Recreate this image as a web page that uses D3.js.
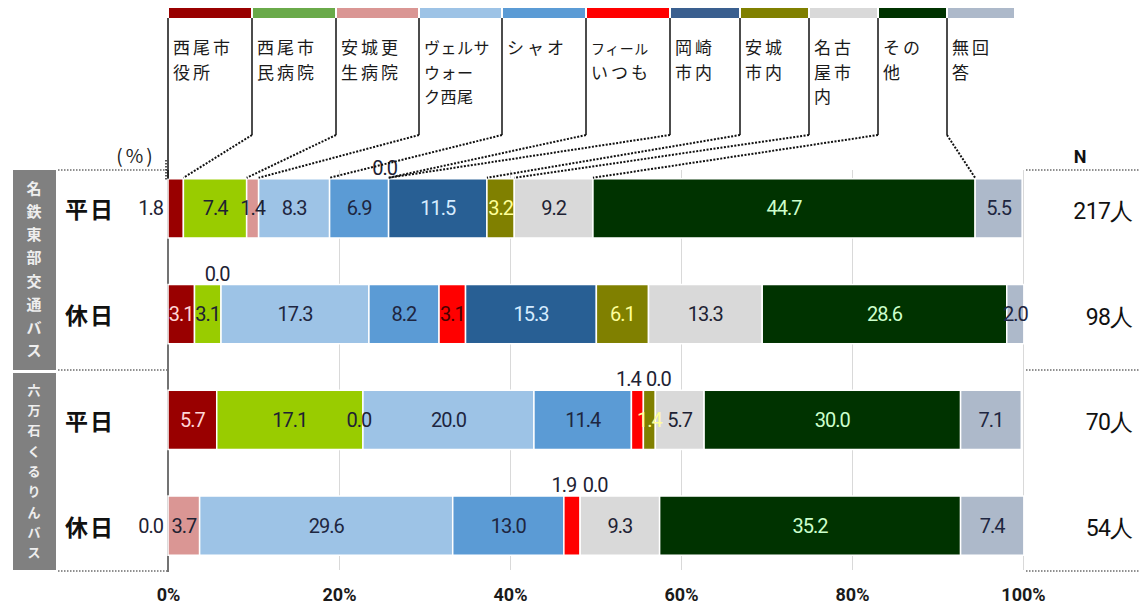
<!DOCTYPE html>
<html><head><meta charset="utf-8">
<script src="https://cdn.jsdelivr.net/npm/d3@7"></script>
<style>
body{margin:0;background:#fff;}
svg{display:block;}
text{font-family:"Noto Sans CJK JP","Noto Sans",sans-serif;}
.num{font-family:Roboto,"Noto Sans",sans-serif;}
</style></head>
<body><svg id="c" width="1140" height="614"></svg>
<script>
// ---- data ----
const categories = ["西尾市役所","西尾市民病院","安城更生病院","ヴェルサウォーク西尾","シャオ","フィールいつも","岡崎市内","安城市内","名古屋市内","その他","無回答"];
const legendLines = [["西尾市","役所"],["西尾市","民病院"],["安城更","生病院"],["ヴェルサ","ウォー","ク西尾"],["シャオ"],["フィール","いつも"],["岡崎","市内"],["安城","市内"],["名古","屋市","内"],["その","他"],["無回","答"]];
const groups = ["名鉄東部交通バス","六万石くるりんバス"];
const rowLabels = ["平日","休日","平日","休日"];
const nLabels = ["217人","98人","70人","54人"];
const meitetsuWeekday = [1.8,7.4,1.4,8.3,6.9,0.0,11.5,3.2,9.2,44.7,5.5];
const meitetsuHoliday = [3.1,3.1,0.0,17.3,8.2,3.1,15.3,6.1,13.3,28.6,2.0];
const rokumanWeekday  = [5.7,17.1,0.0,20.0,11.4,1.4,0.0,1.4,5.7,30.0,7.1];
const rokumanHoliday  = [0.0,0.0,3.7,29.6,13.0,1.9,0.0,0.0,9.3,35.2,7.4];
const tickValues = [0,20,40,60,80,100];

const rowsData = [meitetsuWeekday, meitetsuHoliday, rokumanWeekday, rokumanHoliday];

// ---- styles ----
const colors = ["#990000","#99cc00","#da9694","#9dc3e6","#5b9bd5","#ff0000","#285f94","#808000","#d9d9d9","#003300","#adb9ca"];
const legendColors = ["#990000","#6aaa4a","#da9694","#9dc3e6","#5b9bd5","#ff0000","#3a5f8f","#808000","#d9d9d9","#003300","#adb9ca"];
const labelColors = ["#ffd6d6","#1e2233","#1e2233","#1e2640","#1e2640","#4a0000","#d6ecff","#ffff99","#1e2233","#ccffcc","#1e2640"];
// label placement overrides: key "row-cat"
const labelMode = {
 "0-0":{m:"left"}, "0-5":{m:"above",dx:-4},
 "1-2":{m:"above",dx:-4},
 "2-2":{m:"in",dx:-4}, "2-5":{m:"above",dx:-9}, "2-6":{m:"above",dx:15},
 "3-0":{m:"left"}, "3-1":{m:"hide"}, "3-5":{m:"above",dx:-8}, "3-6":{m:"above",dx:15}, "3-7":{m:"hide"}
};

const svg = d3.select("#c");
const x = d3.scaleLinear().domain([0,100]).range([168,1023]);
const y = d3.scaleBand().domain(d3.range(4)).range([155.5,578.5]).paddingInner(0.44).paddingOuter(0.22);

// gridlines
svg.append("g").attr("transform","translate(0,570)")
 .call(d3.axisBottom(x).tickValues(tickValues.slice(1)).tickSize(-400).tickFormat(""))
 .call(g=>g.select(".domain").remove())
 .call(g=>g.selectAll("line").attr("stroke","#d9d9d9").attr("stroke-width",1));

// axis labels
svg.append("g").attr("transform","translate(0,596)")
 .call(d3.axisBottom(x).tickValues(tickValues).tickSize(0).tickFormat(d=>d+"%"))
 .call(g=>g.select(".domain").remove())
 .call(g=>g.selectAll("text").attr("class","num").attr("font-size",18).attr("font-weight","bold").attr("fill","#1a1a1a").attr("dy","0.1em"));

// left axis line
svg.append("line").attr("x1",x(0)).attr("x2",x(0)).attr("y1",170).attr("y2",572).attr("stroke","#444").attr("stroke-width",1.5);

// dotted separators
[170,370,571].forEach(yy=>{
  svg.append("line").attr("x1",58).attr("x2",167).attr("y1",yy).attr("y2",yy).attr("stroke","#222").attr("stroke-width",1.2).attr("stroke-dasharray","1.5,1.5");
  svg.append("line").attr("x1",1026).attr("x2",1140).attr("y1",yy).attr("y2",yy).attr("stroke","#222").attr("stroke-width",1.2).attr("stroke-dasharray","1.5,1.5");
});
svg.append("line").attr("x1",166).attr("x2",166).attr("y1",160).attr("y2",180).attr("stroke","#222").attr("stroke-width",1.5).attr("stroke-dasharray","1.5,1.5");

// group boxes
const groupBoxes = [[170,370],[373,570]];
groups.forEach((g,gi)=>{
  const [y0,y1] = groupBoxes[gi];
  svg.append("rect").attr("x",13).attr("y",y0).attr("width",43).attr("height",y1-y0).attr("fill","#808080");
  const chars = Array.from(g);
  const step = (y1-y0-14)/chars.length;
  const t = svg.append("text").attr("text-anchor","middle")
      .attr("font-size",gi===0?15:13).attr("font-weight","bold").attr("fill","#eeeeee");
  chars.forEach((ch,i)=>{
    t.append("tspan").attr("x",34).attr("y",y0+7+step*(i+0.5)+ (gi===0?5:4.5)).text(ch);
  });
});

// row labels and N
rowLabels.forEach((t,i)=>{
  svg.append("text").attr("x",65).attr("y",y(i)+y.bandwidth()/2).attr("dominant-baseline","central")
    .attr("font-size",23).attr("letter-spacing","2").attr("font-weight","bold").attr("fill","#111").text(t);
  svg.append("text").attr("x",1133).attr("y",y(i)+y.bandwidth()/2+3).attr("dominant-baseline","central").attr("text-anchor","end")
    .attr("font-size",23).attr("letter-spacing","-0.5").attr("fill","#111").attr("class","num").text(nLabels[i]);
});
svg.append("text").attr("x",1080).attr("y",163).attr("text-anchor","middle").attr("font-size",18).attr("font-weight","bold").attr("fill","#111").attr("class","num").text("N");
svg.append("text").attr("x",136).attr("y",163).attr("text-anchor","middle").attr("font-size",19).attr("letter-spacing","3").attr("fill","#222").text("(%)");

// bars
rowsData.forEach((vals,ri)=>{
  let cum = 0;
  const segs = vals.map((v,ci)=>{const s={ci,v,x0:cum,x1:cum+v}; cum+=v; return s;});
  const g = svg.append("g");
  g.selectAll("rect").data(segs.filter(s=>s.v>0)).join("rect")
    .attr("x",d=>x(d.x0)).attr("y",y(ri)).attr("width",d=>x(d.x1)-x(d.x0)).attr("height",y.bandwidth())
    .attr("fill",d=>colors[d.ci]).attr("stroke","#fff").attr("stroke-width",1.5);
  segs.forEach(s=>{
    const mode = labelMode[ri+"-"+s.ci] || {m: s.v>0?"in":"hide"};
    if(mode.m==="hide") return;
    const cx = x((s.x0+s.x1)/2) + (mode.dx||0);
    const cy = y(ri)+y.bandwidth()/2;
    const t = g.append("text").attr("class","num").attr("font-size",20).attr("letter-spacing","-1").text(s.v.toFixed(1));
    if(mode.m==="in"){
      t.attr("x",cx).attr("y",cy).attr("text-anchor","middle").attr("dominant-baseline","central").attr("fill",labelColors[s.ci]);
    } else if(mode.m==="left"){
      t.attr("x",x(0)-5).attr("y",cy).attr("text-anchor","end").attr("dominant-baseline","central").attr("fill","#1e2233");
    } else if(mode.m==="above"){
      t.attr("x",cx).attr("y",y(ri)-11).attr("text-anchor","middle").attr("dominant-baseline","central").attr("fill","#1e2233");
    }
  });
});

// legend
const cellEdges = [168,252,336,419,502,586,670,740,809,878,947,1015];
const cum0 = d3.cumsum(meitetsuWeekday);
categories.forEach((c,i)=>{
  const x0 = cellEdges[i], x1 = cellEdges[i+1];
  svg.append("rect").attr("x",x0+1).attr("y",8).attr("width",x1-x0-2).attr("height",10).attr("fill",legendColors[i]);
  legendLines[i].forEach((ln,li)=>{
    let fs = 17;
    let ls = 3;
    if(i===3){ fs = 16; ls = 0.5; }
    if(i===5 && li===0){ fs = 14; ls = 0.5; }
    svg.append("text").attr("fill","#1a1a1a").attr("x",x0+5).attr("y",54+li*24.6)
      .attr("font-size",fs).attr("letter-spacing",ls).text(ln);
  });
});
const lineG = svg.append("g");
lineG.append("line").attr("x1",x(0)).attr("x2",x(0)).attr("y1",18).attr("y2",y(0)).attr("stroke","#111").attr("stroke-width",1.5);
for(let i=0;i<10;i++){
  const ex = cellEdges[i+1];
  lineG.append("line").attr("x1",ex).attr("x2",ex).attr("y1",18).attr("y2",135).attr("stroke","#111").attr("stroke-width",1.5);
  lineG.append("line").attr("x1",ex).attr("y1",135).attr("x2",x(cum0[i])).attr("y2",y(0)-1)
    .attr("stroke","#111").attr("stroke-width",2).attr("stroke-dasharray","2,1.5");
}
</script></body></html>
